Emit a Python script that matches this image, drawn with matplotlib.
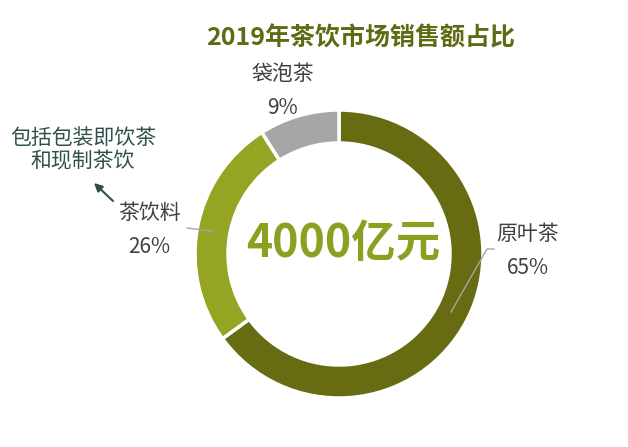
import matplotlib.pyplot as plt
from matplotlib.patches import FancyArrowPatch

plt.rcParams['font.family'] = ['Noto Sans CJK SC', 'DejaVu Sans']

# data
categories = ['原叶茶', '茶饮料', '袋泡茶']
shares = [65, 26, 9]
colors = ['#676C13', '#95A523', '#A6A6A6']
title = '2019年茶饮市场销售额占比'
center_text = '4000亿元'

W, H = 628, 447
fig = plt.figure(figsize=(W / 100, H / 100), dpi=100)
ax = fig.add_axes([0, 0, 1, 1])


def Y(y):
    # pixel row (from top) -> data y (from bottom)
    return H - y


cx, cy, R = 339, 254, 144
ax.pie(shares, colors=colors, startangle=90, counterclock=False,
       radius=R, center=(cx, Y(cy)), frame=True,
       wedgeprops=dict(width=33, edgecolor='white', linewidth=2.5))
ax.set_xlim(0, W)
ax.set_ylim(0, H)
ax.set_aspect('equal')
ax.axis('off')

ax.text(cx + 22, Y(38), title, ha='center', va='center', fontsize=18, fontweight='bold', color='#5F6A12')
ax.text(cx + 4, Y(244), center_text, ha='center', va='center', fontsize=32, fontweight='bold', color='#8BA021')

lbl = '#404040'
pos = {'原叶茶': (528, 234), '茶饮料': (149, 213), '袋泡茶': (283, 74)}
for name, v in zip(categories, shares):
    x, y = pos[name]
    ax.text(x, Y(y), name, ha='center', va='center', fontsize=15, color=lbl)
    ax.text(x, Y(y + 34), f'{v}%', ha='center', va='center', fontsize=15, color=lbl)

ax.plot([451, 487, 494], [Y(312), Y(249), Y(249)], color='#A6A6A6', lw=1)
ax.plot([187, 212], [Y(228), Y(231)], color='#A6A6A6', lw=1)

note = '#2F4F4A'
ax.text(83, Y(150), '包括包装即饮茶\n和现制茶饮', ha='center', va='center', fontsize=15,
        color=note, linespacing=1.1)
ax.add_patch(FancyArrowPatch((113, Y(201)), (94, Y(183)), arrowstyle='-|>', mutation_scale=12,
                             color=note, lw=1.5, shrinkA=0, shrinkB=0))

fig.savefig('out.png', dpi=100)
